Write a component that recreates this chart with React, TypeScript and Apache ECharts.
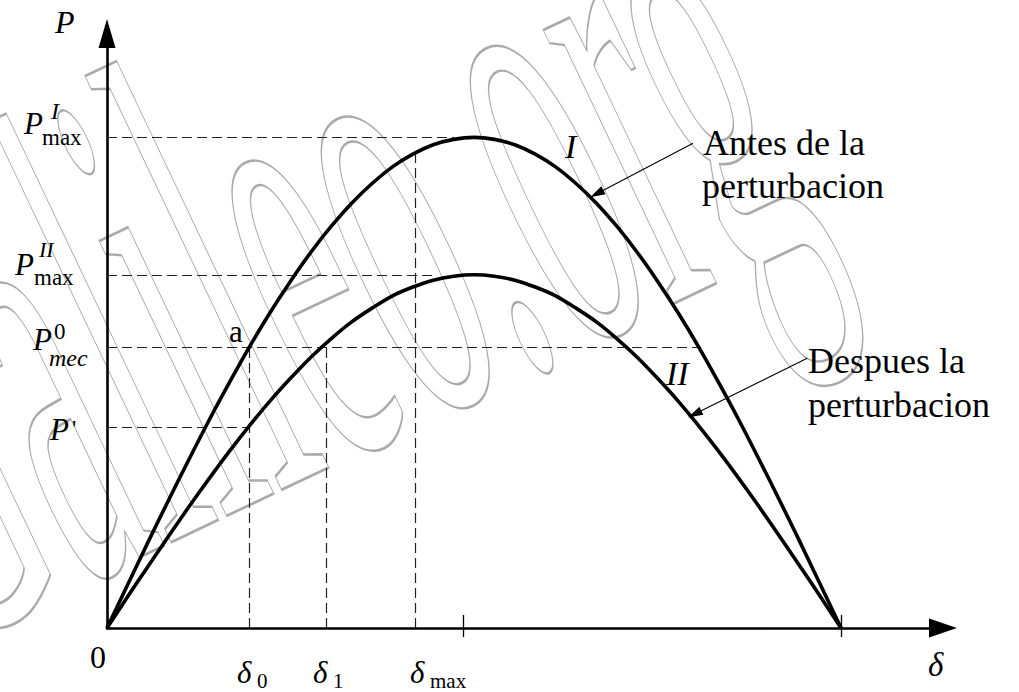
import React, { useEffect, useRef } from "react";
import * as echarts from "echarts";

// Power-angle characteristic before (I) and after (II) the disturbance, every 5 degrees.
const deltaDeg = [
  0, 5, 10, 15, 20, 25, 30, 35, 40, 45, 50, 55, 60, 65, 70, 75, 80, 85, 90,
  95, 100, 105, 110, 115, 120, 125, 130, 135, 140, 145, 150, 155, 160, 165, 170, 175, 180,
];
const powerBefore = [
  0, 0.087, 0.174, 0.259, 0.342, 0.423, 0.5, 0.574, 0.643, 0.707, 0.766, 0.819, 0.866, 0.906, 0.94, 0.966, 0.985, 0.996, 1.0,
  0.996, 0.985, 0.966, 0.94, 0.906, 0.866, 0.819, 0.766, 0.707, 0.643, 0.574, 0.5, 0.423, 0.342, 0.259, 0.174, 0.087, 0,
];
const powerAfter = [
  0, 0.063, 0.125, 0.186, 0.246, 0.304, 0.36, 0.413, 0.463, 0.509, 0.552, 0.59, 0.624, 0.652, 0.677, 0.695, 0.709, 0.717, 0.72,
  0.717, 0.709, 0.695, 0.677, 0.652, 0.624, 0.59, 0.552, 0.509, 0.463, 0.413, 0.36, 0.304, 0.246, 0.186, 0.125, 0.063, 0,
];

// Reference levels and angles
const pMaxI = 1.0;
const pMaxII = 0.72;
const pMec = 0.572;
const pPrime = 0.41;
const delta0 = 35;
const delta1 = 53.7;
const deltaMax = 75.5;
const pAtDeltaMax = 0.968;
const deltaMecRight = 145;
const deltaPeakI = 85;
const deltaPeakII = 80;
const axisTickDeltas = [87.3, 180];

// Annotation arrows: [tail, head] in (delta, P)
const arrowBefore = [[143.7, 0.988], [120.1, 0.885]];
const arrowAfter = [[171.7, 0.55], [144.1, 0.436]];

const watermarkText = "Galileo.org";

const SERIF = "'Liberation Serif', 'Times New Roman', serif";
const BLACK = "#000";
const DASH = "#222";

function txt(text: string, x: number, baseline: number, size: number, italic = false) {
  return {
    type: "text",
    x,
    y: baseline - 0.34 * size,
    silent: true,
    z: 10,
    style: {
      text,
      fill: BLACK,
      font: `${italic ? "italic " : ""}${size}px ${SERIF}`,
      align: "left",
      verticalAlign: "middle",
    },
  };
}

export default function App() {
  const ref = useRef<HTMLDivElement>(null);

  useEffect(() => {
    if (!ref.current) return;
    const chart = echarts.init(ref.current, undefined, { renderer: "svg" });

    const dashed = { color: DASH, width: 1.2, type: [10, 5] as number[] };
    const seg = (a: number[], b: number[]) => [{ coord: a }, { coord: b }];

    const guideLines = [
      seg([0, pMaxI], [deltaPeakI, pMaxI]),
      seg([0, pMaxII], [deltaPeakII, pMaxII]),
      seg([0, pMec], [deltaMecRight, pMec]),
      seg([0, pPrime], [delta0, pPrime]),
      seg([delta0, 0], [delta0, pMec]),
      seg([delta1, 0], [delta1, pMec]),
      seg([deltaMax, 0], [deltaMax, pAtDeltaMax]),
    ];

    const arrowLine = (a: number[][]) => [
      { coord: a[0], symbol: "none" },
      { coord: a[1], symbol: "triangle", symbolSize: [9, 15] },
    ];

    const tickStyle = { color: BLACK, width: 1.3 };
    const xRange = { type: "value", min: 0, max: 205, gridIndex: 0 };

    // watermark: outlined, stretched and tilted text
    const wmAngle = (25.4 * Math.PI) / 180;
    const wmSize = 220;
    const wmStretch = 3.0;

    chart.setOption({
      animation: false,
      backgroundColor: "#fff",
      grid: { left: 107, top: 33.5, width: 836, height: 594.5, containLabel: false },
      xAxis: [
        {
          ...xRange,
          position: "bottom",
          axisLine: {
            show: true,
            onZero: true,
            symbol: ["none", "triangle"],
            symbolSize: [19, 28],
            lineStyle: { color: BLACK, width: 2.6 },
          },
          axisTick: { show: true, inside: false, length: 9, customValues: axisTickDeltas, lineStyle: tickStyle },
          axisLabel: { show: false },
          splitLine: { show: false },
        },
        {
          ...xRange,
          position: "bottom",
          axisLine: { show: false, onZero: false },
          axisTick: { show: true, inside: true, length: 13, customValues: axisTickDeltas, lineStyle: tickStyle },
          axisLabel: { show: false },
          splitLine: { show: false },
        },
      ],
      yAxis: {
        type: "value",
        min: 0,
        max: 1.2118,
        axisLine: {
          show: true,
          onZero: false,
          symbol: ["none", "triangle"],
          symbolSize: [17, 29],
          lineStyle: { color: BLACK, width: 2.6 },
        },
        axisTick: { show: false },
        axisLabel: { show: false },
        splitLine: { show: false },
      },
      series: [
        {
          type: "line",
          name: "I",
          data: deltaDeg.map((d, i) => [d, powerBefore[i]]),
          smooth: 0.3,
          symbol: "none",
          lineStyle: { color: BLACK, width: 3.6 },
          z: 5,
          markLine: {
            silent: true,
            symbol: "none",
            label: { show: false },
            lineStyle: dashed,
            data: guideLines,
            z: 2,
          },
        },
        {
          type: "line",
          name: "II",
          data: deltaDeg.map((d, i) => [d, powerAfter[i]]),
          smooth: 0.3,
          symbol: "none",
          lineStyle: { color: BLACK, width: 3.6 },
          z: 5,
          markLine: {
            silent: true,
            symbol: "none",
            label: { show: false },
            lineStyle: { color: BLACK, width: 1.1, type: "solid" },
            data: [arrowLine(arrowBefore), arrowLine(arrowAfter)],
            z: 6,
          },
        },
      ],
      graphic: [
        {
          type: "text",
          x: -160,
          y: 453,
          rotation: wmAngle,
          scaleX: 1,
          scaleY: wmStretch,
          silent: true,
          z: 0,
          style: {
            text: watermarkText,
            font: `${wmSize}px ${SERIF}`,
            fill: "none",
            stroke: "#aaaaaa",
            lineWidth: 0.9,
            align: "left",
            verticalAlign: "middle",
          },
        },
        // axis names
        txt("P", 55, 33, 32, true),
        txt("0", 90, 668, 32),
        txt("\u03b4", 928, 676, 33, true),
        // P axis levels
        txt("P", 24, 134, 31, true),
        txt("I", 51, 119, 24, true),
        txt("max", 42, 145, 23),
        txt("P", 15, 275, 31, true),
        txt("II", 39, 257, 22, true),
        txt("max", 34, 285, 23),
        txt("P", 33, 350, 31, true),
        txt("0", 54, 339, 23),
        txt("mec", 49, 366, 24, true),
        txt("P", 50, 440, 31, true),
        txt("'", 72, 436, 24),
        txt("a", 229, 342, 31),
        // delta axis marks
        txt("\u03b4", 237, 683, 31, true),
        txt("0", 257, 688, 21),
        txt("\u03b4", 313, 683, 31, true),
        txt("1", 333, 688, 21),
        txt("\u03b4", 410, 683, 31, true),
        txt("max", 430, 688, 21),
        // curve names and notes
        txt("I", 565, 158, 34, true),
        txt("II", 666, 385, 34, true),
        txt("Antes de la", 703, 155, 36),
        txt("perturbacion", 702, 198, 36),
        txt("Despues la", 808, 373, 36),
        txt("perturbacion", 808, 417, 36),
      ],
    });

    return () => chart.dispose();
  }, []);

  return (
    <div
      ref={ref}
      style={{ position: "fixed", left: 0, top: 0, width: 1019, height: 692, background: "#fff" }}
    />
  );
}
